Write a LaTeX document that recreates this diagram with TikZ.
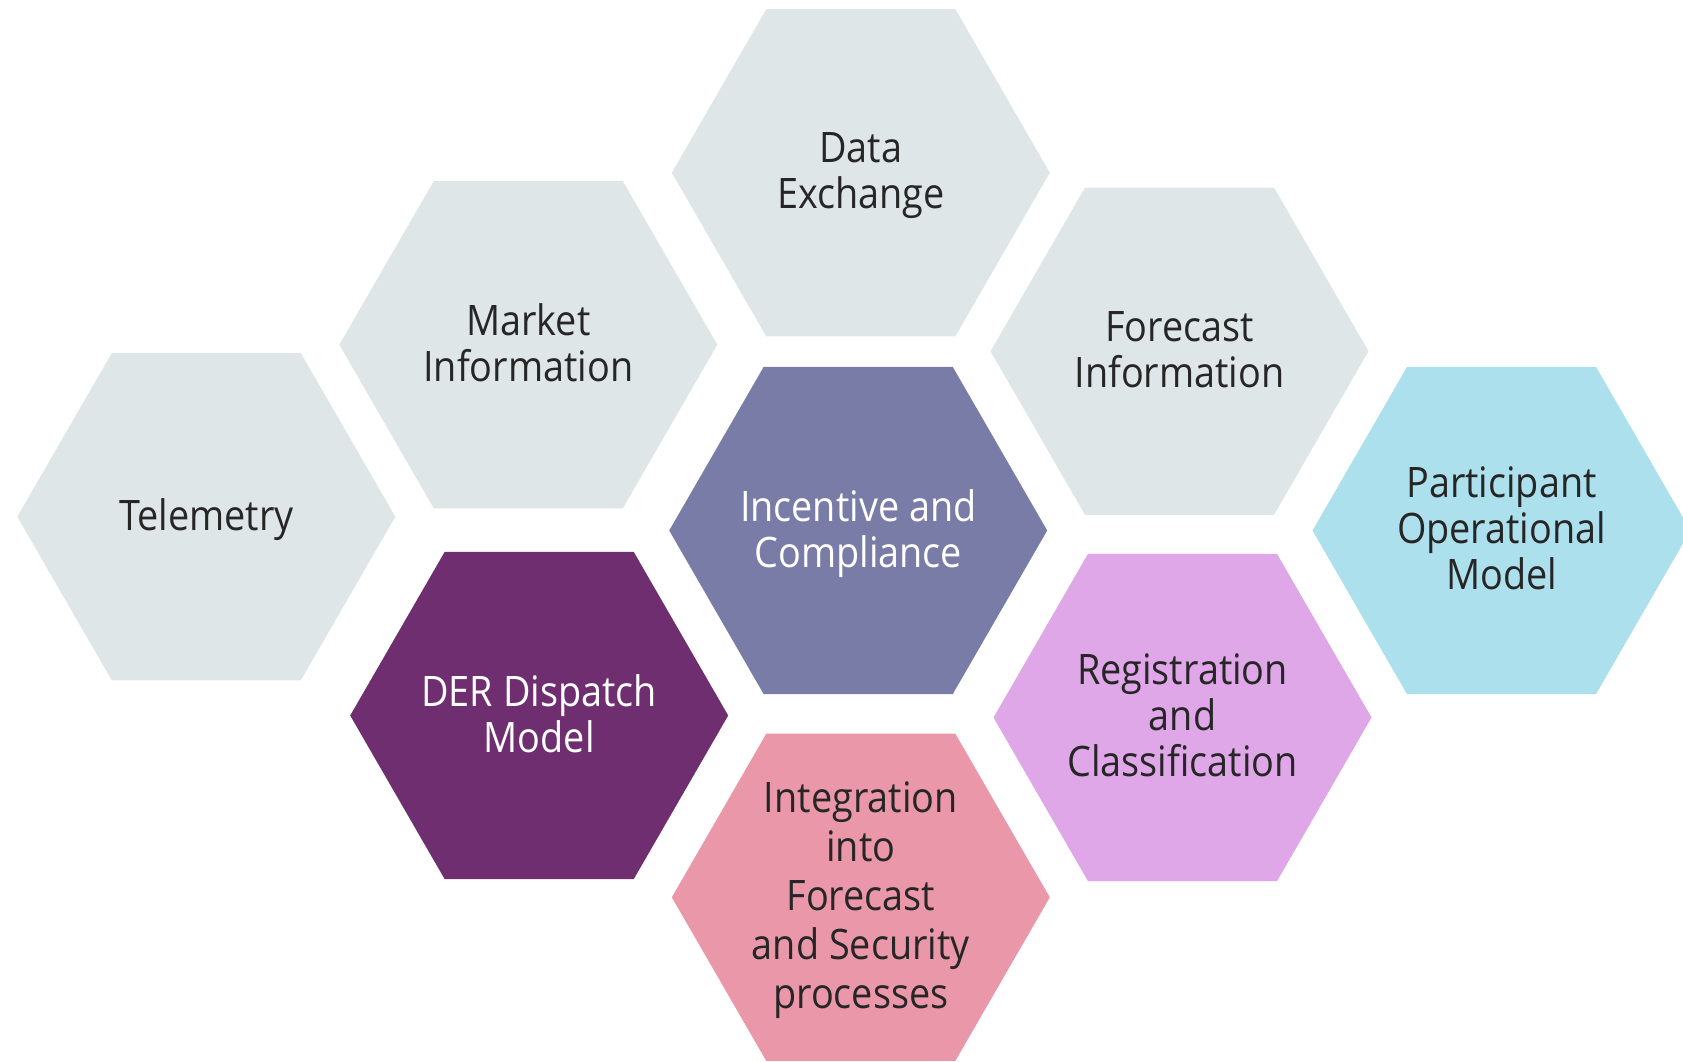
\documentclass[tikz,border=0pt]{standalone}
\usepackage{fontspec}
\setmainfont{Open Sans}[FakeStretch=0.9]
\usetikzlibrary{shapes.geometric}
\definecolor{hexgrey}{HTML}{DFE6E8}
\definecolor{hexslate}{HTML}{787CA7}
\definecolor{hexplum}{HTML}{6F2E70}
\definecolor{hexlilac}{HTML}{DFA6E8}
\definecolor{hexsky}{HTML}{ADE0ED}
\definecolor{hexrose}{HTML}{EA97A9}
\definecolor{hextext}{HTML}{262626}
\tikzset{
  hexa/.style={regular polygon, regular polygon sides=6, minimum size=378pt,
    inner sep=0pt, outer sep=0pt, draw=none},
  hexlabel/.style={align=center, inner sep=0pt, text=hextext, yshift=-3pt,
    font=\fontsize{42}{46}\selectfont, execute at end node={\vphantom{g}}},
  hexlabelw/.style={hexlabel, text=white}
}

\begin{document}
\begin{tikzpicture}[x=1pt,y=-1pt]
\useasboundingbox (0,0) rectangle (1683,1061);
% cells
\node[hexa, fill=hexgrey]  (data)  at (860.8,172.7) {};
\node[hexa, fill=hexgrey]  (mkt)   at (528.3,344.7) {};
\node[hexa, fill=hexgrey]  (tele)  at (206.3,516.7) {};
\node[hexa, fill=hexgrey]  (fcst)  at (1179.5,351.2) {};
\node[hexa, fill=hexsky]   (part)  at (1501.5,530.5) {};
\node[hexa, fill=hexslate] (inc)   at (858.2,530.5) {};
\node[hexa, fill=hexplum]  (der)   at (539.2,715.5) {};
\node[hexa, fill=hexlilac] (reg)   at (1182.5,717.5) {};
\node[hexa, fill=hexrose]  (integ) at (860.8,897.3) {};
% texts
\node[hexlabel]  (datat)  at (data)  {Data\\Exchange};
\node[hexlabel]  (mktt)   at (mkt)   {Market\\Information};
\node[hexlabel]  (telet)  at (tele)  {Telemetry};
\node[hexlabel]  (fcstt)  at (fcst)  {Forecast\\Information};
\node[hexlabel]  (partt)  at (part)  {Participant\\Operational\\Model};
\node[hexlabelw] (inct)   at (inc)   {Incentive and\\Compliance};
\node[hexlabelw] (dert)   at (der)   {DER Dispatch\\Model};
\node[hexlabel]  (regt)   at (reg)   {Registration\\and\\Classification};
\node[hexlabel, font=\fontsize{42}{49}\selectfont]
  (integt) at (integ) {Integration\\into\\Forecast\\and Security\\processes};
\end{tikzpicture}
\end{document}
